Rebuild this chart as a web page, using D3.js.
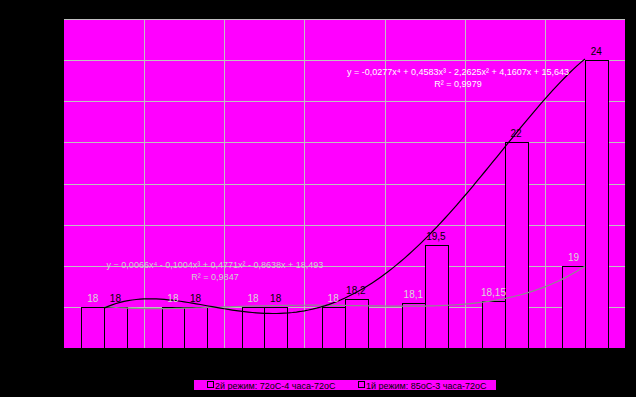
<!DOCTYPE html>
<html>
<head>
<meta charset="utf-8">
<script src="https://cdn.jsdelivr.net/npm/d3@7"></script>
<style>
  body { margin: 0; background: #000; }
  svg { display: block; font-family: "Liberation Sans", Arial, sans-serif; }
</style>
</head>
<body>
<svg id="chart" width="636" height="397"></svg>
<script>
// data
const categories = [1, 2, 3, 4, 5, 6, 7];
const mode2 = [18, 18, 18, 18, 18.1, 18.15, 19];     // 2й режим
const mode1 = [18, 18, 18, 18.2, 19.5, 22, 24];      // 1й режим
const seriesNames = ["2й режим: 72оС-4 часа-72оС", "1й режим: 85оС-3 часа-72оС"];
const eq2 = ["y = 0,0066x\u2074 - 0,1004x\u00b3 + 0,4771x\u00b2 - 0,8638x + 18,493", "R\u00b2 = 0,9847"];
const eq1 = ["y = -0,0277x\u2074 + 0,4583x\u00b3 - 2,2625x\u00b2 + 4,1607x + 15,643", "R\u00b2 = 0,9979"];
const yTicks = [17, 18, 19, 20, 21, 22, 23, 24, 25];

const svg = d3.select("#chart");
const plot = { left: 64, right: 625, top: 19, bottom: 348 };

svg.append("rect").attr("x", plot.left).attr("y", plot.top)
  .attr("width", plot.right - plot.left).attr("height", plot.bottom - plot.top)
  .attr("fill", "#ff00ff");

const x0 = d3.scaleBand().domain(categories).range([plot.left, plot.right]).padding(0);
const x1 = d3.scaleBand().domain([0, 1]).range([0, x0.bandwidth()]).paddingInner(0).paddingOuter(0.77);
const y = d3.scaleLinear().domain([17, 25]).range([plot.bottom, plot.top]);
const xc = d3.scaleLinear().domain([1, 7]).range([x0(1) + x0.bandwidth() / 2, x0(7) + x0.bandwidth() / 2]);

// gridlines
svg.append("g").selectAll("line").data(yTicks.slice(1)).join("line")
  .attr("x1", plot.left).attr("x2", plot.right)
  .attr("y1", d => Math.round(y(d)) + 0.5).attr("y2", d => Math.round(y(d)) + 0.5)
  .attr("stroke", "#c0c0c0");
svg.append("g").selectAll("line").data(categories.slice(1)).join("line")
  .attr("x1", d => Math.round(x0(d)) + 0.5).attr("x2", d => Math.round(x0(d)) + 0.5)
  .attr("y1", plot.top).attr("y2", plot.bottom)
  .attr("stroke", "#c0c0c0");

// bars
const series = [mode2, mode1];
const labelColors = ["#d8d8d8", "#000"];
series.forEach((vals, s) => {
  const g = svg.append("g");
  g.selectAll("rect").data(vals).join("rect")
    .attr("x", (d, i) => Math.round(x0(categories[i]) + x1(s)) + 0.5)
    .attr("y", d => Math.round(y(d)) + 0.5)
    .attr("width", Math.round(x1.bandwidth()))
    .attr("height", d => plot.bottom - Math.round(y(d)))
    .attr("fill", "#ff00ff").attr("stroke", "#000");
});

// polynomial trendlines (least squares, order 4)
function polyfit(xs, ys, n) {
  const m = n + 1;
  const A = Array.from({ length: m }, () => new Array(m + 1).fill(0));
  for (let r = 0; r < m; r++) {
    for (let c = 0; c < m; c++) A[r][c] = d3.sum(xs, xv => Math.pow(xv, r + c));
    A[r][m] = d3.sum(xs, (xv, i) => ys[i] * Math.pow(xv, r));
  }
  for (let i = 0; i < m; i++) {
    let p = i;
    for (let k = i + 1; k < m; k++) if (Math.abs(A[k][i]) > Math.abs(A[p][i])) p = k;
    [A[i], A[p]] = [A[p], A[i]];
    for (let k = i + 1; k < m; k++) {
      const f = A[k][i] / A[i][i];
      for (let c = i; c <= m; c++) A[k][c] -= f * A[i][c];
    }
  }
  const coef = new Array(m).fill(0);
  for (let i = m - 1; i >= 0; i--) {
    let s = A[i][m];
    for (let c = i + 1; c < m; c++) s -= A[i][c] * coef[c];
    coef[i] = s / A[i][i];
  }
  return coef;
}
const trendColors = ["#8c8c8c", "#000"];
const line = d3.line().x(d => xc(d[0])).y(d => y(d[1]));
series.forEach((vals, s) => {
  const coef = polyfit(categories, vals, 4);
  const f = t => coef.reduce((acc, c, k) => acc + c * Math.pow(t, k), 0);
  const pts = d3.range(1, 7.001, 0.05).map(t => [t, f(t)]);
  svg.append("path").attr("d", line(pts)).attr("fill", "none")
    .attr("stroke", trendColors[s]).attr("stroke-width", 1.2);
});

// data labels
series.forEach((vals, s) => {
  svg.append("g").selectAll("text").data(vals).join("text")
    .attr("x", (d, i) => x0(categories[i]) + x1(s) + x1.bandwidth() / 2)
    .attr("y", d => y(d) - 5)
    .attr("text-anchor", "middle").attr("font-size", 10)
    .attr("fill", labelColors[s])
    .text(d => String(d).replace(".", ","));
});

// equations
const eqs = [
  { lines: eq2, x: 215, y: 268, color: "#d0d0d0" },
  { lines: eq1, x: 458, y: 75, color: "#fff" }
];
eqs.forEach(e => {
  svg.append("text").attr("x", e.x).attr("y", e.y).attr("text-anchor", "middle")
    .attr("font-size", 9).attr("fill", e.color).text(e.lines[0]);
  svg.append("text").attr("x", e.x).attr("y", e.y + 12).attr("text-anchor", "middle")
    .attr("font-size", 9).attr("fill", e.color).text(e.lines[1]);
});

// legend
const lg = svg.append("g");
lg.append("rect").attr("x", 194).attr("y", 380).attr("width", 302).attr("height", 10).attr("fill", "#ff00ff");
const legX = [207, 358];
seriesNames.forEach((name, i) => {
  lg.append("rect").attr("x", legX[i] + 0.5).attr("y", 381.5).attr("width", 6).attr("height", 6)
    .attr("fill", "#ff00ff").attr("stroke", "#000");
  lg.append("text").attr("x", legX[i] + 8).attr("y", 388.5).attr("font-size", 9)
    .attr("fill", "#000").text(name);
});
</script>
</body>
</html>
